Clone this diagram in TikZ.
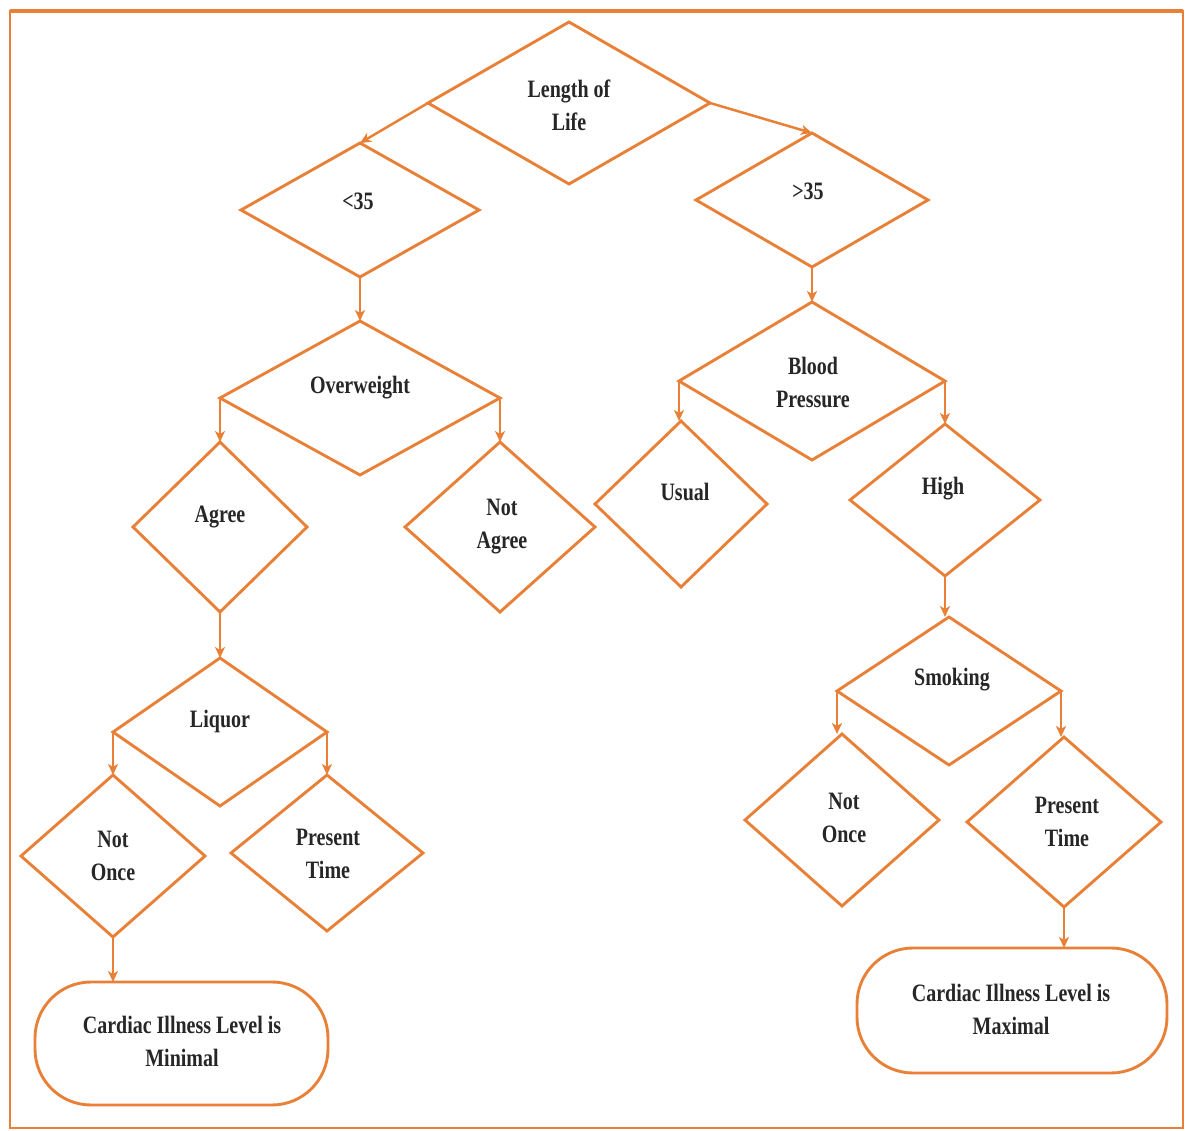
\documentclass[tikz,border=0pt]{standalone}
\usepackage{fontspec}
\newfontfamily\labfont{Liberation Serif}[FakeStretch=0.8]
\usetikzlibrary{shapes.geometric,arrows.meta,calc}
\definecolor{org}{RGB}{232,128,56}
\begin{document}
\begin{tikzpicture}[x=1pt,y=-1pt,
  dia/.style={draw=org,line width=2.9pt,shape=diamond,inner sep=0pt,outer sep=0pt},
  term/.style={draw=org,line width=2.9pt,rounded corners=56pt,inner sep=0pt,outer sep=0pt},
  lab/.style={font=\labfont\bfseries\fontsize{25}{33}\selectfont,align=center,inner sep=0pt,text=black!85},
  arr/.style={draw=org,line width=2.5pt,-{Stealth[length=11pt,width=10pt,inset=3pt]}}
]
\useasboundingbox (0,0) rectangle (1186,1131);
% frame
\draw[org,line width=2.6pt] (10,11) rectangle (1183,1128);
\draw[org,line width=3.6pt] (10,11) -- (1183,11);

% diamonds (left branch)
\node[dia,minimum width=282pt,minimum height=162pt] (lol) at (569,103) {};
\node[dia,minimum width=238pt,minimum height=134pt] (lt) at (360,210) {};
\node[dia,minimum width=280pt,minimum height=154pt] (ow) at (360,398) {};
\node[dia,minimum width=174pt,minimum height=170pt] (ag) at (220,527) {};
\node[dia,minimum width=190pt,minimum height=170pt] (nag) at (500,527) {};
\node[dia,minimum width=214pt,minimum height=148pt] (liq) at (220,732) {};
\node[dia,minimum width=184pt,minimum height=162pt] (no1) at (113,856) {};
\node[dia,minimum width=192pt,minimum height=156pt] (pt1) at (327,853) {};
\node[term,minimum width=293pt,minimum height=123pt] (minb) at (181.5,1043.5) {};

% diamonds (right branch)
\node[dia,minimum width=232pt,minimum height=134pt] (gt) at (812,200) {};
\node[dia,minimum width=266pt,minimum height=158pt] (bp) at (812,381) {};
\node[dia,minimum width=172pt,minimum height=166pt] (us) at (681,504) {};
\node[dia,minimum width=190pt,minimum height=152pt] (hi) at (945,500) {};
\node[dia,minimum width=224pt,minimum height=148pt] (sm) at (949,691) {};
\node[dia,minimum width=194pt,minimum height=172pt] (no2) at (842,820) {};
\node[dia,minimum width=194pt,minimum height=170pt] (pt2) at (1064,822) {};
\node[term,minimum width=310pt,minimum height=125pt] (maxb) at (1012,1010.5) {};

% texts
\node[lab] (tlol) at (569,105) {Length of\\Life};
\node[lab] (tlt) at (358,201) {<35};
\node[lab] (tgt) at (808,191) {>35};
\node[lab] (tow) at (360,388) {Overweight};
\node[lab] (tag) at (220,517) {Agree};
\node[lab] (tnag) at (502,527) {Not\\Agree};
\node[lab] (tliq) at (220,721) {Liquor};
\node[lab] (tno1) at (113,856) {Not\\Once};
\node[lab] (tpt1) at (328,854) {Present\\Time};
\node[lab] (tmin) at (182,1041) {Cardiac Illness Level is\\Minimal};
\node[lab] (tbp) at (813,382) {Blood\\Pressure};
\node[lab] (tus) at (685,492) {Usual};
\node[lab] (thi) at (943,489) {High};
\node[lab] (tsm) at (952,680) {Smoking};
\node[lab] (tno2) at (844,818) {Not\\Once};
\node[lab] (tpt2) at (1067,822) {Present\\Time};
\node[lab] (tmax) at (1011,1009) {Cardiac Illness Level is\\Maximal};

% connectors
\draw[arr] (lol.west) -- (lt.north);
\draw[arr] (lol.east) -- (gt.north);
\draw[arr] (lt.south) -- (lt.south |- ow.north);
\draw[arr] (ow.west) -- (ow.west |- ag.north);
\draw[arr] (ow.east) -- (ow.east |- nag.north);
\draw[arr] (ag.south) -- (ag.south |- liq.north);
\draw[arr] (liq.west) -- (liq.west |- no1.north);
\draw[arr] (liq.east) -- (liq.east |- pt1.north);
\draw[arr] (no1.south) -- (no1.south |- minb.north);
\draw[arr] (gt.south) -- (gt.south |- bp.north);
\draw[arr] (bp.west) -- (bp.west |- us.north);
\draw[arr] (bp.east) -- (bp.east |- hi.north);
\draw[arr] (hi.south) -- (hi.south |- sm.north);
\draw[arr] (sm.west) -- (sm.west |- no2.north);
\draw[arr] (sm.east) -- (sm.east |- pt2.north);
\draw[arr] (pt2.south) -- (pt2.south |- maxb.north);
\end{tikzpicture}
\end{document}
